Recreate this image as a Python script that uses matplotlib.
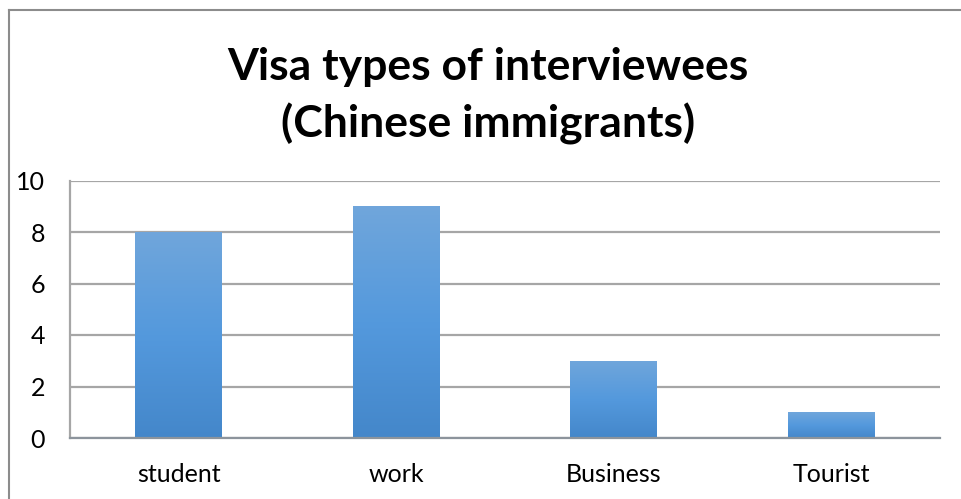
import numpy as np
import matplotlib.pyplot as plt
from matplotlib.colors import LinearSegmentedColormap
from matplotlib.lines import Line2D

visa_types = ["student", "work", "Business", "Tourist"]
interviewees = [8, 9, 3, 1]
y_ticks = [0, 2, 4, 6, 8, 10]

plt.rcParams['font.family'] = ['Lato', 'DejaVu Sans']

W, H = 962, 499
fig = plt.figure(figsize=(W / 100, H / 100), dpi=100)
ax = fig.add_axes([70 / W, 1 - 438 / H, 870 / W, 257.5 / H])

# bar fill fades from light blue at the top to a deeper blue at the base
bar_cmap = LinearSegmentedColormap.from_list("bar", ["#4487CA", "#5499DD", "#70A6DB"])
grad = np.linspace(0, 1, 256).reshape(-1, 1)

x = np.arange(len(visa_types))
bars = ax.bar(x, interviewees, width=0.4, color="none", edgecolor="none", zorder=3)
for bar, val in zip(bars, interviewees):
    x0 = bar.get_x()
    img = ax.imshow(grad, cmap=bar_cmap, origin="lower", aspect="auto",
                    extent=(x0, x0 + bar.get_width(), 0, val), zorder=3)
    img.set_clip_path(bar)

ax.set_xlim(-0.5, len(visa_types) - 0.5)
ax.set_ylim(0, 10)
ax.set_yticks(y_ticks)
ax.set_xticks(x)
ax.set_xticklabels(visa_types)
ax.tick_params(axis="both", length=0, labelsize=18, labelcolor="black")
ax.tick_params(axis="y", pad=18)
ax.tick_params(axis="x", pad=18)

ax.grid(axis="y", color="#A6A6A6", linewidth=1.6, zorder=1)
ax.set_axisbelow(True)
for side in ["top", "right"]:
    ax.spines[side].set_visible(False)
ax.spines["left"].set_color("#A6A6A6")
ax.spines["left"].set_linewidth(1.6)
ax.spines["bottom"].set_color("#8C949C")
ax.spines["bottom"].set_linewidth(1.6)
ax.spines["bottom"].set_zorder(4)

# outer chart border, only the left and top edges fall inside the image
fig.add_artist(Line2D([8.5 / W, 8.5 / W], [0, 1 - 9.5 / H], transform=fig.transFigure,
                      color="#8C8C8C", linewidth=1.5))
fig.add_artist(Line2D([8.5 / W, 1], [1 - 9.5 / H, 1 - 9.5 / H], transform=fig.transFigure,
                      color="#8C8C8C", linewidth=1.5))

fig.text(488 / W, 1 - 96 / H, "Visa types of interviewees\n(Chinese immigrants)",
         ha="center", va="center", fontsize=32, fontweight="bold",
         linespacing=1.45)

fig.savefig("out.png", dpi=100)
